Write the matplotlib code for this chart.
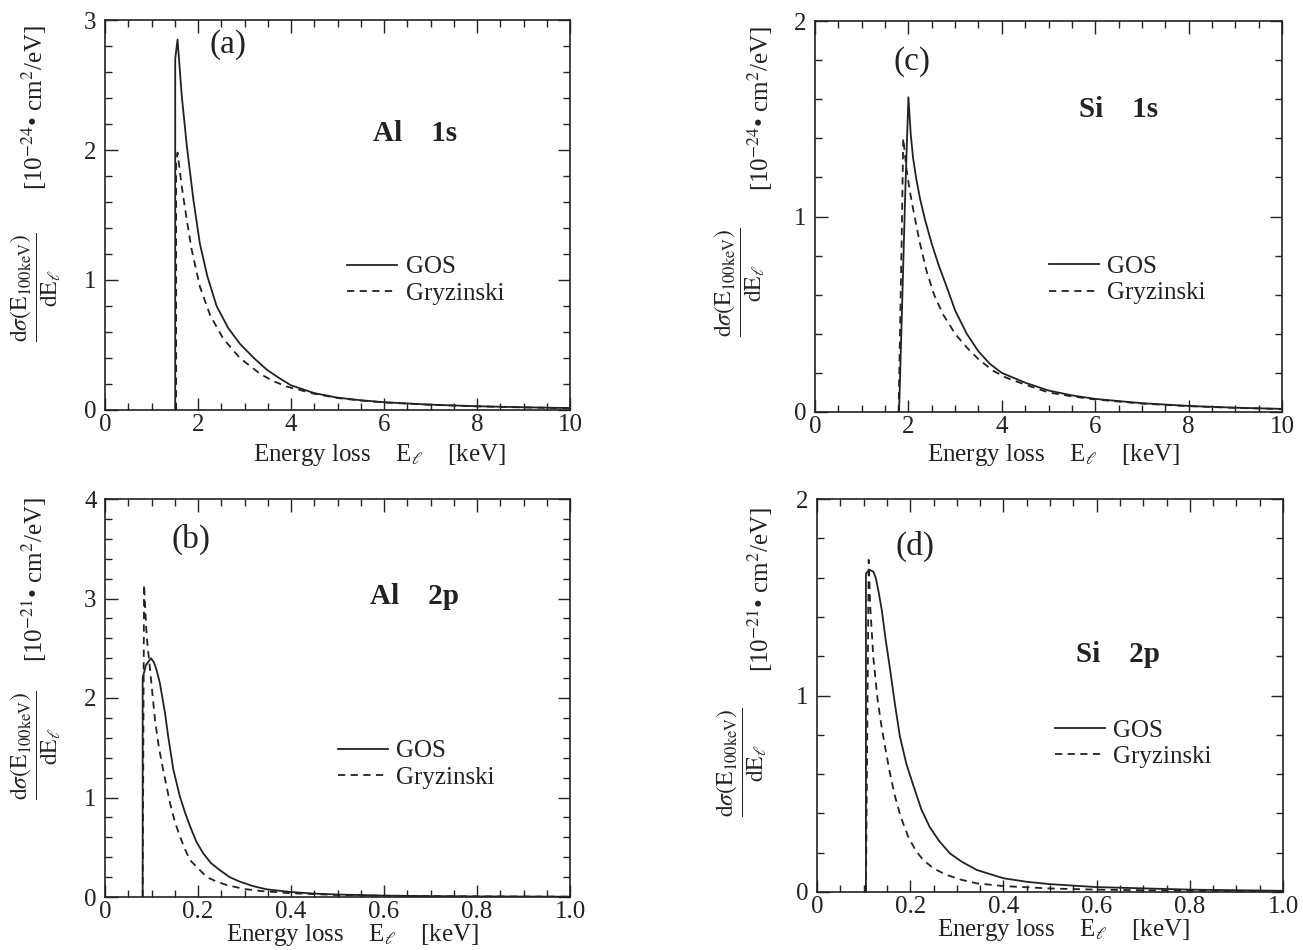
import numpy as np
import matplotlib
matplotlib.use('Agg')
import matplotlib.pyplot as plt
from matplotlib.ticker import MultipleLocator

plt.rcParams['font.family'] = ['Liberation Serif', 'DejaVu Serif']
plt.rcParams['mathtext.fontset'] = 'stix'

# ---- data ----
# (a) Al 1s, energy loss in keV, cross section in 1e-24 cm^2/eV
al1s_gos_e = [1.51, 1.51, 1.56, 1.65, 1.76, 1.90, 2.04, 2.20, 2.40, 2.65, 2.90, 3.20, 3.48, 3.75, 4.00, 4.50, 5.00, 5.50, 6.00, 7.00, 8.00, 9.00, 10.0]
al1s_gos_v = [0.0, 2.70, 2.85, 2.42, 2.03, 1.62, 1.28, 1.03, 0.80, 0.63, 0.51, 0.40, 0.31, 0.245, 0.19, 0.13, 0.095, 0.075, 0.060, 0.041, 0.029, 0.021, 0.015]
al1s_gry_e = [1.53, 1.53, 1.56, 1.65, 1.76, 1.86, 2.04, 2.26, 2.54, 2.90, 3.33, 3.60, 3.91, 4.50, 5.00, 5.50, 6.00, 7.00, 8.00, 9.00, 10.0]
al1s_gry_v = [0.0, 1.90, 1.98, 1.72, 1.46, 1.24, 0.95, 0.73, 0.55, 0.40, 0.28, 0.225, 0.18, 0.125, 0.092, 0.073, 0.058, 0.040, 0.028, 0.020, 0.014]

# (c) Si 1s
si1s_gos_e = [1.80, 1.86, 1.93, 2.00, 2.05, 2.10, 2.17, 2.25, 2.36, 2.50, 2.65, 2.82, 3.00, 3.25, 3.50, 3.75, 4.00, 4.50, 5.00, 5.50, 6.00, 7.00, 8.00, 9.00, 10.0]
si1s_gos_v = [0.0, 0.50, 1.10, 1.61, 1.42, 1.30, 1.19, 1.09, 0.98, 0.86, 0.75, 0.64, 0.52, 0.40, 0.31, 0.245, 0.20, 0.15, 0.11, 0.085, 0.067, 0.045, 0.031, 0.022, 0.016]
si1s_gry_e = [1.79, 1.85, 1.89, 1.96, 2.03, 2.10, 2.24, 2.39, 2.55, 2.74, 3.00, 3.25, 3.50, 3.82, 4.10, 4.50, 5.00, 5.50, 6.00, 7.00, 8.00, 9.00, 10.0]
si1s_gry_v = [0.0, 0.80, 1.40, 1.24, 1.13, 1.04, 0.87, 0.72, 0.60, 0.50, 0.40, 0.33, 0.27, 0.21, 0.175, 0.14, 0.10, 0.08, 0.064, 0.043, 0.030, 0.021, 0.015]

# (b) Al 2p, cross section in 1e-21 cm^2/eV
al2p_gos_e = [0.081, 0.081, 0.088, 0.099, 0.105, 0.111, 0.118, 0.129, 0.136, 0.147, 0.161, 0.172, 0.183, 0.196, 0.211, 0.228, 0.247, 0.268, 0.290, 0.318, 0.348, 0.40, 0.45, 0.50, 0.60, 0.70, 0.80, 1.00]
al2p_gos_v = [0.0, 2.20, 2.33, 2.40, 2.36, 2.28, 2.15, 1.85, 1.61, 1.28, 1.01, 0.85, 0.71, 0.56, 0.44, 0.34, 0.27, 0.20, 0.154, 0.11, 0.077, 0.050, 0.034, 0.025, 0.014, 0.009, 0.006, 0.003]
al2p_gry_e = [0.081, 0.084, 0.0896, 0.097, 0.1075, 0.116, 0.125, 0.140, 0.150, 0.161, 0.172, 0.183, 0.204, 0.219, 0.240, 0.262, 0.30, 0.34, 0.40, 0.50, 0.60, 0.80, 1.00]
al2p_gry_v = [0.0, 3.14, 2.62, 2.28, 1.78, 1.50, 1.28, 0.94, 0.76, 0.61, 0.48, 0.37, 0.27, 0.20, 0.155, 0.12, 0.08, 0.058, 0.038, 0.020, 0.012, 0.006, 0.003]

# (d) Si 2p
si2p_gos_e = [0.105, 0.105, 0.112, 0.121, 0.126, 0.132, 0.139, 0.147, 0.157, 0.167, 0.178, 0.192, 0.207, 0.224, 0.242, 0.262, 0.285, 0.31, 0.343, 0.40, 0.45, 0.50, 0.60, 0.80, 1.00]
si2p_gos_v = [0.0, 1.62, 1.64, 1.63, 1.60, 1.53, 1.435, 1.29, 1.13, 0.96, 0.79, 0.65, 0.54, 0.42, 0.33, 0.26, 0.197, 0.155, 0.112, 0.070, 0.052, 0.040, 0.025, 0.012, 0.006]
si2p_gry_e = [0.105, 0.111, 0.114, 0.121, 0.130, 0.138, 0.146, 0.156, 0.167, 0.180, 0.196, 0.212, 0.228, 0.250, 0.278, 0.31, 0.343, 0.40, 0.50, 0.60, 0.80, 1.00]
si2p_gry_v = [0.0, 1.69, 1.46, 1.19, 0.98, 0.85, 0.74, 0.61, 0.49, 0.38, 0.28, 0.21, 0.163, 0.12, 0.087, 0.062, 0.044, 0.030, 0.018, 0.012, 0.006, 0.003]

W, H = 1303, 950
fig = plt.figure(figsize=(W / 100, H / 100), dpi=100)

def px_axes(x0, y0, x1, y1):
    return fig.add_axes([x0 / W, 1 - y1 / H, (x1 - x0) / W, (y1 - y0) / H])

panels = [
    dict(box=(105, 20, 570, 410), xlim=(0, 10), ylim=(0, 3), xmaj=2, xmin=0.5, ymaj=1, ymin=0.2,
         letter='(a)', title='Al    1s', gos=(al1s_gos_e, al1s_gos_v), gry=(al1s_gry_e, al1s_gry_v),
         expo='-24', lpos=(2.65, 2.81), tpos=(6.67, 2.13), leg=(0.52, 0.395), xl=(0.59, -0.115),
         frac=(36, 287), brk=(34, 108), xfmt='{:.0f}'),
    dict(box=(815, 21, 1282, 412), xlim=(0, 10), ylim=(0, 2), xmaj=2, xmin=0.5, ymaj=1, ymin=0.2,
         letter='(c)', title='Si    1s', gos=(si1s_gos_e, si1s_gos_v), gry=(si1s_gry_e, si1s_gry_v),
         expo='-24', lpos=(2.08, 1.79), tpos=(6.5, 1.545), leg=(0.50, 0.40), xl=(0.51, -0.11),
         frac=(740, 282), brk=(760, 109), xfmt='{:.0f}'),
    dict(box=(105, 499, 570, 897), xlim=(0, 1), ylim=(0, 4), xmaj=0.2, xmin=0.05, ymaj=1, ymin=0.2,
         letter='(b)', title='Al    2p', gos=(al2p_gos_e, al2p_gos_v), gry=(al2p_gry_e, al2p_gry_v),
         expo='-21', lpos=(0.186, 3.59), tpos=(0.665, 3.02), leg=(0.50, 0.395), xl=(0.533, -0.095),
         frac=(36, 745), brk=(34, 580), xfmt='{:.1f}'),
    dict(box=(817, 499, 1283, 892), xlim=(0, 1), ylim=(0, 2), xmaj=0.2, xmin=0.05, ymaj=1, ymin=0.2,
         letter='(d)', title='Si    2p', gos=(si2p_gos_e, si2p_gos_v), gry=(si2p_gry_e, si2p_gry_v),
         expo='-21', lpos=(0.21, 1.76), tpos=(0.646, 1.21), leg=(0.51, 0.44), xl=(0.528, -0.097),
         frac=(742, 762), brk=(760, 590), xfmt='{:.1f}'),
]

for p in panels:
    ax = px_axes(*p['box'])
    ax.plot(p['gos'][0], p['gos'][1], color='#222222', lw=1.3, ls='-', label='GOS')
    ax.plot(p['gry'][0], p['gry'][1], color='#222222', lw=1.3, ls=(0, (4, 3)), label='Gryzinski')
    ax.set_xlim(*p['xlim'])
    ax.set_ylim(*p['ylim'])
    ax.xaxis.set_major_locator(MultipleLocator(p['xmaj']))
    ax.xaxis.set_minor_locator(MultipleLocator(p['xmin']))
    ax.yaxis.set_major_locator(MultipleLocator(p['ymaj']))
    ax.yaxis.set_minor_locator(MultipleLocator(p['ymin']))
    ticks = np.arange(p['xlim'][0], p['xlim'][1] + 1e-9, p['xmaj'])
    ax.set_xticks(ticks)
    ax.set_xticklabels(['0' if t == 0 else p['xfmt'].format(t) for t in ticks])
    ax.tick_params(which='both', direction='in', top=True, right=True, labelsize=18,
                   colors='#222222', width=1.0)
    ax.tick_params(which='major', length=9)
    ax.tick_params(axis='x', which='major', pad=3)
    ax.tick_params(axis='y', which='major', pad=6)
    ax.tick_params(which='minor', length=5)
    for s in ax.spines.values():
        s.set_linewidth(1.2)
        s.set_color('#222222')

    ax.text(*p['lpos'], p['letter'], fontsize=24, ha='center', va='center', color='#222222')
    ax.text(*p['tpos'], p['title'], fontsize=21, fontweight='bold', ha='center', va='center', color='#222222')

    leg = ax.legend(loc='upper left', bbox_to_anchor=p['leg'], frameon=False, fontsize=18,
                    handlelength=2.0, handletextpad=0.35, labelspacing=0.15,
                    borderpad=0, borderaxespad=0)
    for t in leg.get_texts():
        t.set_color('#222222')

    ax.set_xlabel(r'Energy loss    E$_{\ell}$    [keV]', fontsize=18, color='#222222', va='center')
    ax.xaxis.set_label_coords(*p['xl'])

    fig.text(p['frac'][0] / W, 1 - p['frac'][1] / H,
             r'$\dfrac{\mathrm{d}\sigma(\mathrm{E}_{\mathrm{100keV}})}{\mathrm{dE}_{\ell}}$',
             rotation=90, fontsize=17, ha='center', va='center', color='#222222')
    fig.text(p['brk'][0] / W, 1 - p['brk'][1] / H,
             '[10$^{' + p['expo'] + '}$• cm$^{2}$/eV]',
             rotation=90, fontsize=18, ha='center', va='center', color='#222222')

fig.savefig('out.png', dpi=100, facecolor='white')
